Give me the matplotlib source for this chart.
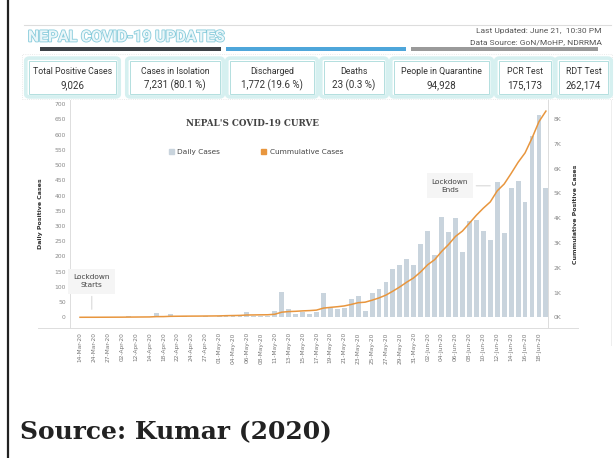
import numpy as np
import matplotlib
matplotlib.use('Agg')
import matplotlib.pyplot as plt
from matplotlib.patches import FancyBboxPatch, Rectangle, Patch
from matplotlib.lines import Line2D
import matplotlib.patheffects as pe

# ---- data ----
dates = ['14-Mar-20', '23-Mar-20', '24-Mar-20', '25-Mar-20', '27-Mar-20', '28-Mar-20',
         '02-Apr-20', '04-Apr-20', '12-Apr-20', '13-Apr-20', '14-Apr-20', '17-Apr-20',
         '18-Apr-20', '21-Apr-20', '22-Apr-20', '23-Apr-20', '24-Apr-20', '25-Apr-20',
         '27-Apr-20', '29-Apr-20', '01-May-20', '02-May-20', '04-May-20', '05-May-20',
         '06-May-20', '07-May-20', '08-May-20', '10-May-20', '11-May-20', '12-May-20',
         '13-May-20', '14-May-20', '15-May-20', '16-May-20', '17-May-20', '18-May-20',
         '19-May-20', '20-May-20', '21-May-20', '22-May-20', '23-May-20', '24-May-20',
         '25-May-20', '26-May-20', '27-May-20', '28-May-20', '29-May-20', '30-May-20',
         '31-May-20', '01-Jun-20', '02-Jun-20', '03-Jun-20', '04-Jun-20', '05-Jun-20',
         '06-Jun-20', '07-Jun-20', '08-Jun-20', '09-Jun-20', '10-Jun-20', '11-Jun-20',
         '12-Jun-20', '13-Jun-20', '14-Jun-20', '15-Jun-20', '16-Jun-20', '17-Jun-20',
         '18-Jun-20', '19-Jun-20']
daily_cases = [1, 1, 0, 1, 1, 1, 1, 3, 2, 2, 2, 13, 1, 11, 3, 3, 2, 1, 3, 2,
               3, 9, 5, 6, 16, 3, 4, 3, 20, 83, 26, 10, 17, 12, 19, 81,
               30, 26, 32, 60, 70, 21, 80, 92, 115, 159, 172, 192, 173, 242,
               285, 204, 330, 282, 327, 216, 317, 320, 284, 254, 445, 277,
               425, 448, 380, 595, 665, 425]
cumulative_cases = np.cumsum(daily_cases)

left_ticks = [0, 50, 100, 150, 200, 250, 300, 350, 400, 450, 500, 550, 600, 650, 700]
right_ticks = [0, 1000, 2000, 3000, 4000, 5000, 6000, 7000, 8000]
right_labels = ['0K', '1K', '2K', '3K', '4K', '5K', '6K', '7K', '8K']

card_labels = ['Total Positive Cases', 'Cases in Isolation', 'Discharged', 'Deaths',
               'People in Quarantine', 'PCR Test', 'RDT Test']
card_values = ['9,026', '7,231', '1,772', '23', '94,928', '175,173', '262,174']
card_shares = ['', '(80.1 %)', '(19.6 %)', '(0.3 %)', '', '', '']

W, H = 615, 458


def fx(x):
    return x / W


def fy(y):
    return 1 - y / H


fig = plt.figure(figsize=(6.15, 4.58), dpi=100)
sans = ['Liberation Sans Narrow', 'Roboto', 'DejaVu Sans']

# page border on the left
fig.add_artist(Line2D([fx(8), fx(8)], [0, 1], color='#222222', lw=1.6))

# ---- dashboard header ----
fig.add_artist(Line2D([fx(24), fx(611)], [fy(25), fy(25)], color='#dddddd', lw=0.8))
fig.text(fx(28), fy(37), 'NEPAL COVID-19 UPDATES', fontsize=11.3, fontweight='bold',
         family=sans, color='#eaf6f9', va='center', ha='left',
         path_effects=[pe.withStroke(linewidth=1.2, foreground='#86cbdb')])
fig.text(fx(602), fy(31), 'Last Updated: June 21,  10:30 PM', fontsize=6, family=sans,
         color='#555555', ha='right', va='center')
fig.text(fx(602), fy(42), 'Data Source: GoN/MoHP, NDRRMA', fontsize=6, family=sans,
         color='#555555', ha='right', va='center')
for x0, x1, c in [(40, 221, '#3d4247'), (226, 406, '#4ea6da'), (411, 598, '#9a9a9a')]:
    fig.add_artist(Rectangle((fx(x0), fy(51)), fx(x1 - x0), 4 / H, color=c, lw=0))

# container around the cards
fig.add_artist(Rectangle((fx(22), fy(99)), fx(590), 45 / H, fill=False,
                         edgecolor='#e3e3e3', lw=0.6, ls=':'))

card_x = [(27, 118), (128, 222), (228, 316), (322, 386), (392, 491), (497, 553), (557, 610)]
for (x0, x1), lab, val, share in zip(card_x, card_labels, card_values, card_shares):
    glow = FancyBboxPatch((fx(x0), fy(96)), fx(x1 - x0), 37 / H,
                          boxstyle='round,pad=0.002,rounding_size=0.006',
                          facecolor='white', edgecolor='#d6f0f0', lw=2.6)
    fig.add_artist(glow)
    inner = FancyBboxPatch((fx(x0 + 2), fy(94)), fx(x1 - x0 - 4), 33 / H,
                           boxstyle='square,pad=0', facecolor='white',
                           edgecolor='#b3dfdf', lw=0.7)
    fig.add_artist(inner)
    xc = fx((x0 + x1) / 2)
    fig.text(xc, fy(71), lab, fontsize=6.3, family=sans, color='#333333',
             ha='center', va='center')
    txt = val if not share else val + ' ' + share
    fig.text(xc, fy(85), txt, fontsize=7, family=sans, color='#333333',
             ha='center', va='center')

# ---- chart ----
ax = fig.add_axes([fx(70), fy(328), fx(548 - 70), (328 - 100) / H])
x = np.arange(len(dates))
ax.bar(x, daily_cases, width=0.7, color='#c9d4dd', zorder=1)
ax.set_xlim(-1.44, 67.3)
ax.set_ylim(-35, 714)
ax.set_yticks(left_ticks)
ax.tick_params(axis='y', labelsize=4.3, labelcolor='#888888', length=0, pad=3)
ax.set_xticks(x)
ax.set_xticklabels([d if i % 2 == 0 else '' for i, d in enumerate(dates)],
                   rotation=90, fontsize=4.2, color='#777777')
ax.tick_params(axis='x', length=0, pad=3)
for s in ['top', 'bottom']:
    ax.spines[s].set_visible(False)
ax.spines['left'].set_color('#dddddd')
ax.spines['right'].set_color('#dddddd')
ax.spines['left'].set_linewidth(0.7)
ax.spines['right'].set_linewidth(0.7)
ax.set_ylabel('Daily Positive Cases', fontsize=4.5, fontweight='bold', color='#333333',
              labelpad=8)

ax2 = ax.twinx()
ax2.plot(x, cumulative_cases, color='#e8963e', lw=1.1, zorder=3)
ax2.set_ylim(-431, 8762)
ax2.set_yticks(right_ticks)
ax2.set_yticklabels(right_labels)
ax2.tick_params(axis='y', labelsize=4.3, labelcolor='#888888', length=0, pad=4)
for s in ['top', 'bottom', 'left']:
    ax2.spines[s].set_visible(False)
ax2.spines['right'].set_color('#dddddd')
ax2.spines['right'].set_linewidth(0.7)
ax2.set_ylabel('Cummulative Positive Cases', fontsize=4.5, fontweight='bold',
               color='#333333', labelpad=8)

# base line running past the axes, Tableau style
fig.add_artist(Line2D([fx(38), fx(578)], [fy(328), fy(328)], color='#dddddd', lw=0.7))
fig.add_artist(Line2D([fx(611), fx(611)], [fy(100), fy(345)], color='#eeeeee', lw=0.7))

fig.text(fx(253), fy(124), "NEPAL'S COVID-19 CURVE", fontsize=6.3, family='DejaVu Serif',
         fontweight='bold', color='#444444', ha='center', va='center')

handles = [Patch(color='#c9d4dd', label='Daily Cases'),
           Patch(color='#e8963e', label='Cummulative Cases')]
fig.legend(handles=handles, ncol=2, frameon=False, fontsize=5.3,
           loc='center left', bbox_to_anchor=(fx(162), fy(152)),
           handlelength=0.7, handleheight=0.7, handletextpad=0.5, columnspacing=5.5,
           labelcolor='#444444')

bbox = dict(boxstyle='square,pad=0.7', facecolor='#f5f5f5', edgecolor='none')
ax.annotate('Lockdown\nStarts', xy=(1.7, 17), xytext=(1.7, 119), ha='center', va='center',
            fontsize=5.3, color='#444444', bbox=bbox, linespacing=1.5,
            arrowprops=dict(arrowstyle='-', color='#cccccc', lw=0.6))
ax.annotate('Lockdown\nEnds', xy=(59.4, 432), xytext=(53.2, 432), ha='center', va='center',
            fontsize=5.3, color='#444444', bbox=bbox, linespacing=1.5,
            arrowprops=dict(arrowstyle='-', color='#cccccc', lw=0.6))

# ---- caption ----
fig.text(fx(20), fy(432), 'Source: Kumar (2020)', fontsize=18, family='DejaVu Serif',
         fontweight='bold', color='#222222', ha='left', va='center')

fig.savefig('out.png', dpi=100)
